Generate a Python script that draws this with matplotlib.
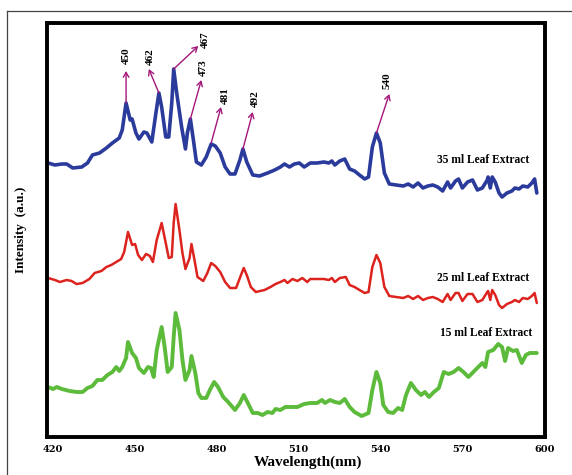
import matplotlib
matplotlib.use("Agg")
import matplotlib.pyplot as plt
from matplotlib.lines import Line2D

# 35 ml leaf extract (blue, top)
wl_35 = [418.4, 420.9, 423.4, 425.2, 427.4, 430.7, 432.8, 434.6, 437.2, 439.7, 441.9, 444.4,
         445.5, 446.9, 448.4, 449.1, 450.5, 451.6, 453.4, 454.5, 456.3, 457.8, 458.9, 459.9,
         461.4, 462.5, 463.6, 464.3, 465.4, 467.2, 468.6, 469.3, 470.4, 471.5, 472.6, 474.4,
         476.2, 478.0, 479.5, 481.3, 483.1, 484.9, 486.7, 488.5, 489.6, 491.0, 493.2, 495.7,
         498.6, 501.2, 503.3, 504.8, 506.6, 508.4, 510.2, 512.0, 514.2, 516.7, 519.2, 521.0,
         522.1, 523.2, 525.0, 526.8, 528.6, 530.4, 532.2, 534.1, 535.5, 536.9, 538.4, 539.8,
         541.3, 543.1, 545.6, 548.2, 550.0, 551.8, 553.6, 555.4, 557.2, 559.0, 560.8, 562.6,
         564.4, 565.5, 567.3, 568.4, 569.8, 571.7, 573.5, 575.3, 577.1, 578.9, 579.2, 580.0,
         580.7, 581.8, 583.2, 584.3, 586.1, 587.9, 589.0, 590.5, 591.9, 593.7, 595.2, 596.2,
         597.0]
int_35 = [274, 272, 273, 273, 269, 270, 274, 282, 284, 289, 294, 299,
          307, 334, 317, 318, 304, 298, 305, 304, 295, 324, 344, 330,
          300, 300, 334, 368, 344, 310, 288, 304, 318, 297, 275, 272,
          280, 293, 291, 284, 270, 263, 263, 277, 288, 275, 262, 261,
          264, 267, 270, 273, 270, 273, 274, 270, 274, 274, 275, 274,
          276, 272, 276, 278, 268, 266, 262, 258, 260, 290, 304, 294,
          264, 253, 252, 251, 253, 250, 254, 249, 251, 252, 250, 246,
          255, 249, 256, 258, 249, 255, 257, 247, 249, 257, 260, 249,
          260, 255, 244, 240, 244, 246, 249, 248, 251, 250, 254, 258,
          244]

# 25 ml leaf extract (red, middle)
wl_25 = [418.4, 420.9, 422.7, 425.2, 427.0, 428.8, 431.0, 433.5, 435.4, 437.9, 439.7, 441.5,
         443.3, 445.1, 446.2, 447.6, 449.1, 450.2, 451.3, 452.7, 454.2, 455.6, 456.7, 458.1,
         459.9, 461.4, 462.5, 463.6, 464.3, 465.0, 466.4, 467.5, 468.6, 470.1, 470.8, 471.9,
         473.0, 475.1, 476.6, 478.0, 479.5, 481.3, 483.1, 484.9, 487.1, 488.9, 489.9, 491.0,
         492.5, 494.3, 497.5, 499.7, 501.5, 503.3, 504.8, 505.9, 507.7, 509.5, 511.3, 513.1,
         514.2, 516.7, 519.2, 521.0, 522.1, 523.2, 525.0, 527.2, 528.6, 530.4, 532.2, 534.1,
         535.5, 536.9, 538.4, 539.8, 541.3, 543.1, 545.6, 548.2, 550.0, 551.8, 553.6, 555.4,
         557.2, 559.0, 560.8, 562.6, 564.4, 565.5, 567.3, 568.4, 569.8, 571.7, 573.5, 575.3,
         577.1, 578.9, 579.2, 580.0, 580.7, 581.8, 583.2, 584.3, 586.1, 587.9, 589.0, 590.5,
         591.9, 593.7, 595.2, 596.2, 597.0]
int_25 = [159, 157, 155, 157, 156, 153, 154, 158, 164, 166, 170, 172,
          175, 178, 185, 205, 192, 193, 182, 177, 183, 181, 175, 197,
          214, 194, 179, 180, 214, 233, 207, 184, 168, 179, 193, 177,
          160, 156, 164, 174, 171, 165, 155, 149, 149, 162, 169, 162,
          150, 145, 147, 150, 153, 155, 157, 154, 158, 156, 159, 155,
          158, 158, 158, 157, 159, 155, 159, 160, 152, 150, 147, 144,
          145, 170, 182, 174, 150, 141, 140, 139, 141, 138, 141, 137,
          139, 140, 138, 135, 143, 137, 144, 144, 136, 143, 143, 135,
          137, 145, 146, 137, 147, 142, 132, 129, 133, 135, 137, 135,
          139, 138, 141, 144, 134]

# 15 ml leaf extract (green, bottom)
wl_15 = [418.4, 420.2, 421.6, 423.4, 426.3, 428.8, 431.0, 432.8, 434.6, 436.4, 438.2, 440.1,
         441.9, 443.3, 444.4, 445.5, 446.9, 447.6, 449.1, 450.5, 451.6, 453.4, 454.9, 456.0,
         457.0, 458.1, 459.9, 461.0, 462.1, 463.6, 464.3, 465.0, 466.4, 467.5, 468.6, 470.1,
         470.8, 472.2, 473.3, 474.4, 476.2, 477.7, 479.1, 480.5, 482.4, 484.2, 486.7, 488.5,
         489.9, 491.4, 493.2, 495.0, 496.8, 498.6, 500.4, 501.5, 503.3, 505.1, 506.9, 509.5,
         512.0, 514.2, 516.7, 518.5, 519.6, 521.4, 523.2, 525.0, 526.8, 528.6, 530.4, 533.0,
         535.5, 536.9, 538.4, 539.8, 540.9, 542.7, 544.5, 546.3, 547.8, 549.2, 551.0, 552.8,
         554.7, 556.1, 557.6, 559.4, 561.2, 563.0, 564.8, 566.6, 568.4, 570.2, 572.0, 573.8,
         575.6, 577.1, 578.2, 579.2, 581.1, 582.9, 584.3, 585.4, 586.5, 588.3, 589.7, 591.5,
         593.0, 594.4, 597.0]
int_15 = [50, 48, 50, 48, 46, 45, 45, 49, 51, 57, 57, 62,
          65, 70, 66, 70, 79, 95, 84, 79, 69, 64, 70, 69,
          60, 87, 110, 90, 65, 70, 100, 124, 107, 77, 57, 67,
          81, 64, 44, 39, 39, 48, 55, 50, 40, 35, 27, 34,
          42, 34, 24, 24, 22, 25, 24, 28, 27, 30, 30, 30,
          33, 34, 34, 37, 34, 37, 35, 34, 38, 30, 25, 21,
          24, 47, 65, 54, 32, 25, 24, 29, 27, 42, 54, 47,
          42, 45, 40, 45, 49, 65, 63, 65, 69, 65, 60, 65,
          70, 74, 70, 85, 87, 93, 90, 76, 89, 86, 87, 74,
          82, 84, 84]

# peak annotations on the 35 ml curve
peak_labels = ["450", "462", "467", "473", "481", "492", "540"]
peak_xy = [(446.9, 334), (458.9, 344), (464.3, 368), (470.4, 318), (478.0, 294), (489.6, 288), (538.4, 304)]
tip_xy = [(446.9, 366), (455.2, 368), (473.3, 391), (474.4, 357), (481.6, 330), (493.2, 325), (543.1, 343)]
text_xy = [(446.9, 381), (455.6, 380), (476.0, 397), (475.3, 369), (483.3, 341), (494.1, 338), (542.2, 356)]

curve_labels = ["35 ml Leaf Extract", "25 ml Leaf Extract", "15 ml Leaf Extract"]
curve_label_xy = [(594.4, 277), (594.4, 159), (595.5, 104)]

x_ticks = [420, 450, 480, 510, 540, 570, 600]

SERIF = "Liberation Serif"

fig = plt.figure(figsize=(5.72, 4.75), dpi=100)
ax = fig.add_axes([47 / 572, 1 - 437 / 475, 498 / 572, 414 / 475])

ax.plot(wl_35, int_35, color="#2b3b9c", lw=2.6, solid_joinstyle="round", solid_capstyle="round")
ax.plot(wl_25, int_25, color="#dc231e", lw=1.8, solid_joinstyle="round", solid_capstyle="round")
ax.plot(wl_15, int_15, color="#5dbb3c", lw=2.8, solid_joinstyle="round", solid_capstyle="round")

for lab, p, t, tx in zip(peak_labels, peak_xy, tip_xy, text_xy):
    ax.annotate("", xy=t, xytext=p,
                arrowprops=dict(arrowstyle="->,head_length=0.35,head_width=0.2",
                                color="#a3177a", lw=1.0, shrinkA=0, shrinkB=0))
    ax.text(tx[0], tx[1], lab, rotation=90, ha="center", va="center",
            fontsize=8, fontweight="bold", family=SERIF)

for lab, (x, y) in zip(curve_labels, curve_label_xy):
    ax.text(x, y, lab, ha="right", va="center", fontsize=8.3, fontweight="bold", family=SERIF)

ax.set_xlim(418, 600)
ax.set_ylim(0, 414)
ax.set_xticks(x_ticks)
ax.set_xticklabels([str(v) for v in x_ticks], family="DejaVu Serif", fontweight="bold", fontsize=7)
ax.tick_params(axis="x", length=0, pad=6)
ax.set_yticks([])
for s in ax.spines.values():
    s.set_linewidth(2.8)

ax.set_xlabel("Wavelength(nm)", family=SERIF, fontweight="bold", fontsize=11, labelpad=2)
ax.xaxis.set_label_coords((308 - 47) / 498, -0.045)
ax.set_ylabel("Intensity  (a.u.)", family=SERIF, fontweight="bold", fontsize=9.5)
ax.yaxis.set_label_coords(-(47 - 27) / 498, 0.5)

# thin outer frame, only its left and top edges fall inside the picture
fx = 7 / 572
fy = 1 - 11 / 475
fig.add_artist(Line2D([fx, fx], [0, fy], color="#444444", lw=0.9))
fig.add_artist(Line2D([fx, 1], [fy, fy], color="#444444", lw=0.9))

fig.savefig("out.png", dpi=100)
